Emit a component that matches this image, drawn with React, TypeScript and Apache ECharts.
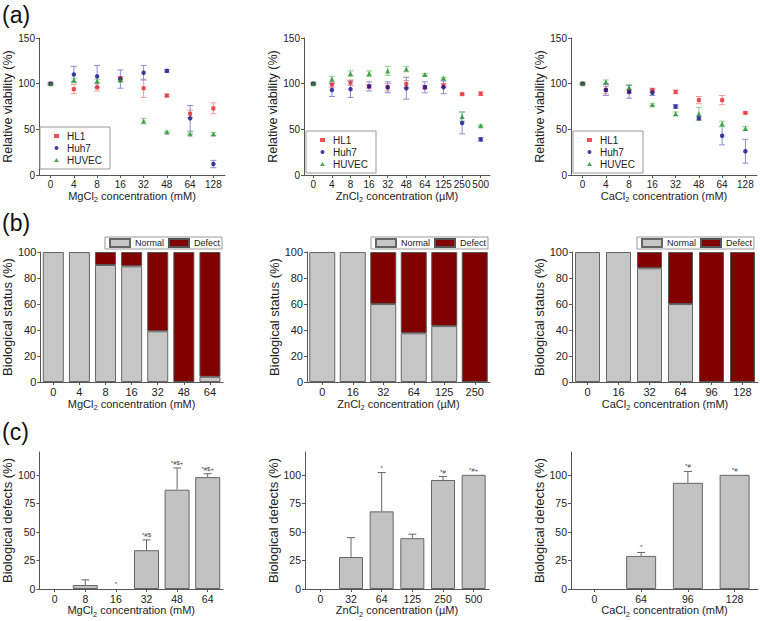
import React, { useEffect, useRef } from 'react';
import * as echarts from 'echarts';

const FONT = 'Arial, "Liberation Sans", sans-serif';
const TXT = '#222';
const AXC = '#555';

// ---------- (a) relative viability ----------
const mgCats = ['0', '4', '8', '16', '32', '48', '64', '128'];
const mgHL1 = [100, 94, 96, 106, 95, 87, 67, 73];
const mgHL1Err = [1, 5, 4, 2, 10, 1.5, 4, 6];
const mgHuh7 = [100, 110, 108, 105, 112, 114, 62, 12];
const mgHuh7Err = [1, 9, 12, 10, 8, 1.5, 14, 4];
const mgHUVEC = [100, 104, 103, 104, 59, 47, 45, 45];
const mgHUVECErr = [1.5, 2, 2, 2, 3, 1, 1, 1.5];

const znCats = ['0', '4', '8', '16', '32', '48', '64', '125', '250', '500'];
const znHL1 = [100, 99, 101, 97, 96, 99.5, 96, 98, 88.5, 89];
const znHL1Err = [1, 3, 3, 2, 4, 4, 2, 2, 1, 2];
const znHuh7 = [100, 93, 94, 97, 96, 95, 96, 96, 57, 39];
const znHuh7Err = [1, 7, 9, 5, 6, 12, 6, 7, 12, 2];
const znHUVEC = [100, 105, 111, 111, 114, 116, 110, 106, 64, 54];
const znHUVECErr = [1.5, 3, 3, 3, 5, 3, 1, 1, 5, 1];

const caCats = ['0', '4', '8', '16', '32', '48', '64', '128'];
const caHL1 = [100, 93, 91.5, 93, 91, 82, 82, 68];
const caHL1Err = [1, 4, 2, 2, 2, 4, 5, 1];
const caHuh7 = [100, 93, 91, 90, 75, 62, 43, 26];
const caHuh7Err = [1, 6, 7, 3, 2, 2, 10, 13];
const caHUVEC = [100, 102, 96, 77, 67, 67, 56, 51];
const caHUVECErr = [1.5, 2, 3, 1, 2, 7, 3, 2];

// ---------- (b) biological status ----------
const bMgCats = ['0', '4', '8', '16', '32', '48', '64'];
const bMgNormal = [100, 100, 90, 89, 39, 0, 4];
const bMgDefect = [0, 0, 10, 11, 61, 100, 96];
const bZnCats = ['0', '16', '32', '64', '125', '250'];
const bZnNormal = [100, 100, 60, 37.5, 43, 0];
const bZnDefect = [0, 0, 40, 62.5, 57, 100];
const bCaCats = ['0', '16', '32', '64', '96', '128'];
const bCaNormal = [100, 100, 87.5, 60, 0, 0];
const bCaDefect = [0, 0, 12.5, 40, 100, 100];

// ---------- (c) biological defects ----------
const cMgCats = ['0', '8', '16', '32', '48', '64'];
const cMgVal = [0, 3.5, 0, 34, 87, 98];
const cMgErr = [0, 4.5, 0, 9, 19, 3];
const cMgSig = ['', '', '*', '*#$', '*#$+', '*#$+'];
const cZnCats = ['0', '32', '64', '125', '250', '500'];
const cZnVal = [0, 28, 68, 44.5, 95.5, 100];
const cZnErr = [0, 17, 34, 3.5, 3, 0];
const cZnSig = ['', '', '*', '', '*#', '*#+'];
const cCaCats = ['0', '64', '96', '128'];
const cCaVal = [0, 29, 93, 100];
const cCaErr = [0, 3, 10, 0];
const cCaSig = ['', '*', '*#', '*#'];

const yTicksC = [0, 25, 50, 75, 100];

const COL = {
  HL1: '#e8262a',
  Huh7: '#14148a',
  HUVEC: '#23902f',
  HL1e: '#f29a9a',
  Huh7e: '#8c8cd0',
  HUVECe: '#8fd08f',
  gray: '#c6c6c6',
  defect: '#800000',
};

const nameRich = (size: number) => ({
  n: { fontSize: size, fontFamily: FONT, color: TXT, lineHeight: size + 4 },
  s: { fontSize: size * 0.68, fontFamily: FONT, color: TXT, lineHeight: size * 0.68, verticalAlign: 'bottom' },
});

function xName(ion: string, unit: string) {
  return `{n|${ion}}{s|2}{n| concentration (${unit})}`;
}

function catAxis(gi: number, data: string[], name: string, labelSize: number, nameGap: number) {
  return {
    type: 'category',
    gridIndex: gi,
    data,
    boundaryGap: true,
    axisLine: { show: true, lineStyle: { color: AXC, width: 1 } },
    axisTick: { show: true, alignWithLabel: true, length: 3, lineStyle: { color: AXC, width: 1 } },
    axisLabel: { fontSize: labelSize, color: TXT, margin: 4, fontFamily: FONT, interval: 0 },
    splitLine: { show: false },
    name,
    nameLocation: 'middle',
    nameGap,
    nameTextStyle: { fontSize: 11, fontFamily: FONT, color: TXT, rich: nameRich(11) },
  };
}

function valAxis(gi: number, max: number, interval: number, name: string, labelSize: number, nameSize: number, nameGap: number, custom?: number[]) {
  const ax: any = {
    type: 'value',
    gridIndex: gi,
    min: 0,
    max,
    interval,
    axisLine: { show: true, lineStyle: { color: AXC, width: 1 } },
    axisTick: { show: true, length: 3, lineStyle: { color: AXC, width: 1 } },
    axisLabel: { fontSize: labelSize, color: TXT, margin: 4, fontFamily: FONT },
    splitLine: { show: false },
    name,
    nameLocation: 'middle',
    nameGap,
    nameTextStyle: { fontSize: nameSize, fontFamily: FONT, color: TXT },
  };
  if (custom) {
    ax.axisTick.customValues = custom;
    ax.axisLabel.customValues = custom;
  }
  return ax;
}

function errSeries(gi: number, vals: number[], errs: number[], color: string, capHalf: number, upperOnly: boolean, labels?: string[]) {
  return {
    type: 'custom',
    xAxisIndex: gi,
    yAxisIndex: gi,
    silent: true,
    z: upperOnly ? 3 : 1,
    data: vals.map((v, i) => [i, v, errs[i]]),
    encode: { x: 0, y: 1 },
    renderItem: (params: any, api: any) => {
      const i = api.value(0);
      const v = api.value(1);
      const e = api.value(2);
      const children: any[] = [];
      const top = api.coord([i, v + e]);
      const bot = api.coord([i, upperOnly ? v : v - e]);
      const st = { stroke: color, lineWidth: 1 };
      if (e > 0) {
        children.push({ type: 'line', shape: { x1: top[0], y1: top[1], x2: bot[0], y2: bot[1] }, style: st });
        children.push({ type: 'line', shape: { x1: top[0] - capHalf, y1: top[1], x2: top[0] + capHalf, y2: top[1] }, style: st });
        if (!upperOnly) {
          children.push({ type: 'line', shape: { x1: bot[0] - capHalf, y1: bot[1], x2: bot[0] + capHalf, y2: bot[1] }, style: st });
        }
      }
      const lab = labels ? labels[params.dataIndex] : '';
      if (lab) {
        children.push({
          type: 'text',
          x: top[0],
          y: top[1] - 2,
          style: { text: lab, fontSize: 6, fontFamily: FONT, fill: '#444', align: 'center', verticalAlign: 'bottom' },
        });
      }
      return { type: 'group', children };
    },
  };
}

function scatterSet(gi: number, hl1: number[], hl1e: number[], huh: number[], huhe: number[], huv: number[], huve: number[]) {
  return [
    errSeries(gi, hl1, hl1e, COL.HL1e, 3, false),
    errSeries(gi, huh, huhe, COL.Huh7e, 3, false),
    errSeries(gi, huv, huve, COL.HUVECe, 3, false),
    { type: 'scatter', name: 'HL1', xAxisIndex: gi, yAxisIndex: gi, symbol: 'rect', symbolSize: 4, itemStyle: { color: COL.HL1 }, data: hl1, z: 3 },
    { type: 'scatter', name: 'Huh7', xAxisIndex: gi, yAxisIndex: gi, symbol: 'circle', symbolSize: 4.5, itemStyle: { color: COL.Huh7 }, data: huh, z: 4 },
    { type: 'scatter', name: 'HUVEC', xAxisIndex: gi, yAxisIndex: gi, symbol: 'triangle', symbolSize: 5, itemStyle: { color: COL.HUVEC }, data: huv, z: 5 },
  ];
}

const nz = (arr: number[]) => arr.map((v) => (v === 0 ? null : v));

function stackSet(gi: number, normal: number[], defect: number[], bw: number) {
  const stack = 'st' + gi;
  return [
    { type: 'bar', name: 'Normal', xAxisIndex: gi, yAxisIndex: gi, stack, barWidth: bw, data: nz(normal), itemStyle: { color: COL.gray, borderColor: '#666', borderWidth: 1 } },
    { type: 'bar', name: 'Defect', xAxisIndex: gi, yAxisIndex: gi, stack, barWidth: bw, data: nz(defect), itemStyle: { color: COL.defect, borderColor: '#555', borderWidth: 1 } },
  ];
}

function defectSet(gi: number, vals: number[], errs: number[], sig: string[], bw: number) {
  return [
    { type: 'bar', name: 'defects' + gi, xAxisIndex: gi, yAxisIndex: gi, barWidth: bw, data: nz(vals), itemStyle: { color: '#c2c2c2', borderColor: '#666', borderWidth: 1 } },
    errSeries(gi, vals, errs, '#666', 4, true, sig),
  ];
}

function legendA(left: number, top: number) {
  return {
    left, top, orient: 'vertical', data: ['HL1', 'Huh7', 'HUVEC'],
    itemWidth: 5, itemHeight: 4, itemGap: 0,
    padding: [3, 8, 3, 14],
    borderColor: '#999', borderWidth: 1, backgroundColor: '#fff',
    textStyle: { fontSize: 10, fontFamily: FONT, color: TXT, lineHeight: 12, padding: [0, 0, 0, 3] },
  };
}

function legendB(left: number, top: number) {
  return {
    left, top, orient: 'horizontal', data: ['Normal', 'Defect'],
    icon: 'rect', itemWidth: 20, itemHeight: 8, itemGap: 4,
    padding: [1, 2, 1, 4],
    borderColor: '#999', borderWidth: 1, backgroundColor: '#fff',
    textStyle: { fontSize: 9, fontFamily: FONT, color: TXT, lineHeight: 9 },
  };
}

function buildOption() {
  const grid = [
    { left: 39, top: 38, width: 186, height: 137 },
    { left: 304, top: 38, width: 186, height: 137 },
    { left: 571, top: 38, width: 186, height: 137 },
    { left: 39, top: 252, width: 184, height: 130 },
    { left: 307, top: 252, width: 183, height: 130 },
    { left: 572, top: 252, width: 186, height: 130 },
    { left: 39, top: 452, width: 184, height: 137 },
    { left: 305, top: 452, width: 184, height: 137 },
    { left: 571, top: 452, width: 187, height: 137 },
  ];
  const xAxis = [
    catAxis(0, mgCats, xName('MgCl', 'mM'), 10, 13),
    catAxis(1, znCats, xName('ZnCl', '\u00b5M'), 10, 13),
    catAxis(2, caCats, xName('CaCl', 'mM'), 10, 13),
    catAxis(3, bMgCats, xName('MgCl', 'mM'), 11, 14),
    catAxis(4, bZnCats, xName('ZnCl', '\u00b5M'), 11, 14),
    catAxis(5, bCaCats, xName('CaCl', 'mM'), 11, 14),
    catAxis(6, cMgCats, xName('MgCl', 'mM'), 10.5, 12),
    catAxis(7, cZnCats, xName('ZnCl', '\u00b5M'), 10.5, 12),
    catAxis(8, cCaCats, xName('CaCl', 'mM'), 10.5, 12),
  ];
  const yAxis = [
    valAxis(0, 150, 50, 'Relative viability (%)', 10, 12.5, 15),
    valAxis(1, 150, 50, 'Relative viability (%)', 10, 12.5, 15),
    valAxis(2, 150, 50, 'Relative viability (%)', 10, 12.5, 15),
    valAxis(3, 100, 20, 'Biological status (%)', 11, 13, 20),
    valAxis(4, 100, 20, 'Biological status (%)', 11, 13, 20),
    valAxis(5, 100, 20, 'Biological status (%)', 11, 13, 20),
    valAxis(6, 120, 25, 'Biological defects (%)', 10.5, 13, 19, yTicksC),
    valAxis(7, 120, 25, 'Biological defects (%)', 10.5, 13, 19, yTicksC),
    valAxis(8, 120, 25, 'Biological defects (%)', 10.5, 13, 19, yTicksC),
  ];
  const series = [
    ...scatterSet(0, mgHL1, mgHL1Err, mgHuh7, mgHuh7Err, mgHUVEC, mgHUVECErr),
    ...scatterSet(1, znHL1, znHL1Err, znHuh7, znHuh7Err, znHUVEC, znHUVECErr),
    ...scatterSet(2, caHL1, caHL1Err, caHuh7, caHuh7Err, caHUVEC, caHUVECErr),
    ...stackSet(3, bMgNormal, bMgDefect, 21),
    ...stackSet(4, bZnNormal, bZnDefect, 26),
    ...stackSet(5, bCaNormal, bCaDefect, 25),
    ...defectSet(6, cMgVal, cMgErr, cMgSig, 25),
    ...defectSet(7, cZnVal, cZnErr, cZnSig, 24),
    ...defectSet(8, cCaVal, cCaErr, cCaSig, 30),
  ];
  const legend = [
    legendA(40, 127), legendA(306, 131), legendA(573, 131),
    legendB(105, 237), legendB(371, 237), legendB(637, 237),
  ];
  const graphic = [
    { type: 'text', left: 2, top: 3, style: { text: '(a)', fontSize: 23, fontFamily: FONT, fill: '#111' } },
    { type: 'text', left: 2, top: 211, style: { text: '(b)', fontSize: 23, fontFamily: FONT, fill: '#111' } },
    { type: 'text', left: 2, top: 420, style: { text: '(c)', fontSize: 23, fontFamily: FONT, fill: '#111' } },
  ];
  return {
    animation: false,
    backgroundColor: '#fff',
    textStyle: { fontFamily: FONT },
    grid, xAxis, yAxis, series, legend, graphic,
  };
}

export default function App() {
  const ref = useRef<HTMLDivElement>(null);
  useEffect(() => {
    const chart = echarts.init(ref.current as HTMLDivElement, null, { renderer: 'svg' });
    chart.setOption(buildOption() as any);
    return () => chart.dispose();
  }, []);
  return <div ref={ref} style={{ position: 'absolute', left: 0, top: 0, width: 760, height: 621, background: '#fff' }} />;
}
